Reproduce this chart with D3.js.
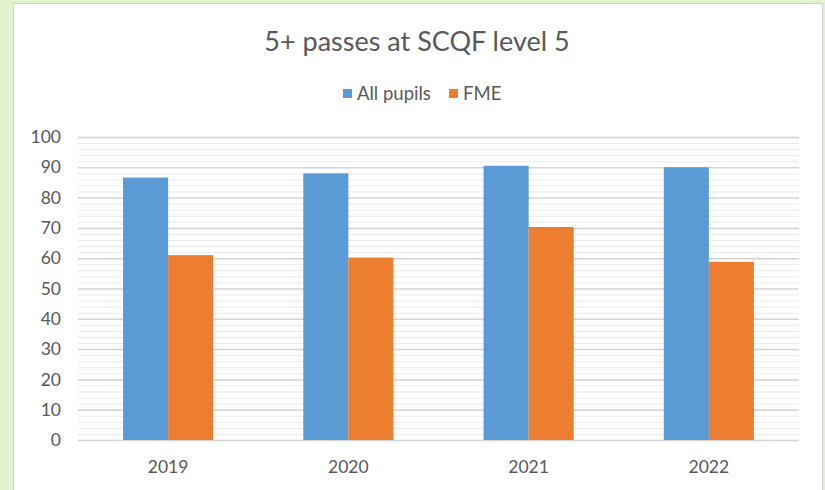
<!DOCTYPE html>
<html>
<head>
<meta charset="utf-8">
<script src="https://cdn.jsdelivr.net/npm/d3@7"></script>
<style>
  body { margin: 0; background: #e3f3cf; }
  svg { display: block; }
  text { font-family: Lato, "Open Sans", sans-serif; fill: #595959; }
</style>
</head>
<body>
<svg></svg>
<script>
var width = 825,
    height = 490;

var title = "5+ passes at SCQF level 5";
var years = ["2019", "2020", "2021", "2022"];
var seriesNames = ["All pupils", "FME"];
var allPupils = [86.6, 88.0, 90.5, 90.0];
var fme = [61.0, 60.2, 70.3, 58.8];
var yTicks = [0, 10, 20, 30, 40, 50, 60, 70, 80, 90, 100];
var colors = ["#5b9bd5", "#ed7d31"];

var margin = { left: 78, right: 26, top: 137, bottom: 50 };

var svg = d3.select("svg")
    .attr("width", width)
    .attr("height", height);

// white chart panel
svg.append("rect")
    .attr("x", 13.5).attr("y", 3.5)
    .attr("width", 809).attr("height", 490)
    .attr("fill", "#fff")
    .attr("stroke", "#d0d0d0");

var x0 = d3.scaleBand()
    .domain(years)
    .range([margin.left, width - margin.right]);

var x1 = d3.scaleBand()
    .domain(seriesNames)
    .range([0, x0.bandwidth()])
    .paddingOuter(1);   // 100% gap width like Excel

var y = d3.scaleLinear()
    .domain([0, 100])
    .range([height - margin.bottom, margin.top]);

// minor gridlines
svg.append("g")
    .selectAll("line")
    .data(d3.range(0, 101, 2).filter(v => v % 10 !== 0))
    .enter().append("line")
    .attr("x1", margin.left).attr("x2", width - margin.right)
    .attr("y1", d => y(d) + 0.5).attr("y2", d => y(d) + 0.5)
    .attr("stroke", "#ebebeb");

// major gridlines
svg.append("g")
    .selectAll("line")
    .data(yTicks)
    .enter().append("line")
    .attr("x1", margin.left).attr("x2", width - margin.right)
    .attr("y1", d => y(d) + 0.5).attr("y2", d => y(d) + 0.5)
    .attr("stroke", "#d4d4d4")
    .attr("stroke-width", 1.5);

// y labels
svg.append("g")
    .selectAll("text")
    .data(yTicks)
    .enter().append("text")
    .attr("x", 61)
    .attr("y", d => y(d))
    .attr("dy", "0.35em")
    .attr("text-anchor", "end")
    .style("font-size", "17.5px")
    .text(d => d);

// bars
var rows = years.map((yr, i) => ({ year: yr, values: [allPupils[i], fme[i]] }));

var groups = svg.append("g")
    .selectAll("g")
    .data(rows)
    .enter().append("g")
    .attr("transform", d => "translate(" + x0(d.year) + ",0)");

groups.selectAll("rect")
    .data(d => d.values.map((v, j) => ({ key: seriesNames[j], value: v, j: j })))
    .enter().append("rect")
    .attr("x", d => x1(d.key))
    .attr("width", x1.bandwidth())
    .attr("y", d => y(d.value))
    .attr("height", d => y(0) - y(d.value))
    .attr("fill", d => colors[d.j]);

// x labels
svg.append("g")
    .selectAll("text")
    .data(years)
    .enter().append("text")
    .attr("x", d => x0(d) + x0.bandwidth() / 2)
    .attr("y", 473)
    .attr("text-anchor", "middle")
    .style("font-size", "17.5px")
    .text(d => d);

// title
svg.append("text")
    .attr("x", 417)
    .attr("y", 51)
    .attr("text-anchor", "middle")
    .style("font-size", "27px")
    .text(title);

// legend
var legendX = [343, 449];
var legend = svg.append("g")
    .selectAll("g")
    .data(seriesNames)
    .enter().append("g")
    .attr("transform", (d, i) => "translate(" + legendX[i] + ",89)");

legend.append("rect")
    .attr("width", 9).attr("height", 9)
    .attr("fill", (d, i) => colors[i]);

legend.append("text")
    .attr("x", 14)
    .attr("y", 4.5)
    .attr("dy", "0.35em")
    .style("font-size", "18.5px")
    .text(d => d);
</script>
</body>
</html>
